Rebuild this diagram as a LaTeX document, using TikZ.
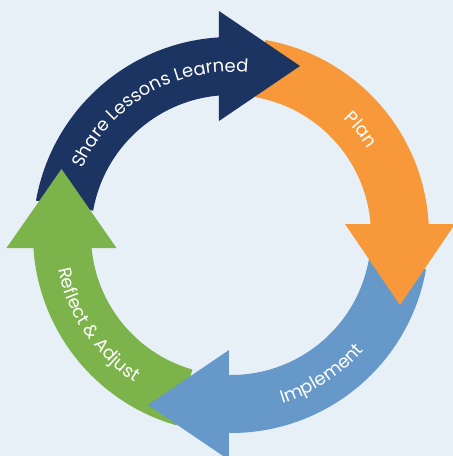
\documentclass[tikz,border=0pt]{standalone}
\usepackage{fontspec}
\setmainfont{Poppins}
\usetikzlibrary{decorations.text}
\definecolor{bgcol}{HTML}{E7F0F7}
\definecolor{sharecol}{HTML}{1C3461}
\definecolor{plancol}{HTML}{F7993A}
\definecolor{implcol}{HTML}{6699C9}
\definecolor{reflcol}{HTML}{7DB34B}
\newcommand{\stagefont}{\fontsize{18}{18}\selectfont}

\begin{document}
\begin{tikzpicture}[x=1pt,y=1pt]
        \tikzset{band/.style={draw=none},
            stage/.style={decorate,
                decoration={text along path, text align=center, text color=white}}}
        \useasboundingbox (-231,-221) rectangle (222,235);
        \fill[bgcol] (-231,-221) rectangle (222,235);
        \coordinate (c) at (0,0);
        % ring pieces
        \fill[band,sharecol] (170:198pt) arc[start angle=170, end angle=92, radius=198pt]
            -- (92:140pt) arc[start angle=92, end angle=170, radius=140pt] -- cycle;
        \fill[band,plancol] (80:198pt) arc[start angle=80, end angle=2, radius=198pt]
            -- (2:140pt) arc[start angle=2, end angle=80, radius=140pt] -- cycle;
        \fill[band,implcol] (-10:198pt) arc[start angle=-10, end angle=-92.5, radius=198pt]
            -- (-92.5:140pt) arc[start angle=-92.5, end angle=-10, radius=140pt] -- cycle;
        \fill[band,reflcol] (254:198pt) arc[start angle=254, end angle=182, radius=198pt]
            -- (182:140pt) arc[start angle=182, end angle=254, radius=140pt] -- cycle;
        % heads
        \fill[sharecol] (-12,114) -- (-12,224) -- (69,169) -- cycle;
        \fill[plancol] (114,11) -- (224,11) -- (169,-70) -- cycle;
        \fill[implcol] (-2,-115) -- (-2,-225) -- (-83,-170) -- cycle;
        \fill[reflcol] (-224.5,-13) -- (-114.5,-13) -- (-169.5,66) -- cycle;
        % labels
        \path[stage, decoration={text={|\stagefont|Share Lessons Learned}}]
            (170:163pt) arc[start angle=170, end angle=70, radius=163pt];
        \path[stage, decoration={text={|\stagefont|Plan}}]
            (70:162pt) arc[start angle=70, end angle=8, radius=162pt];
        \path[stage, decoration={text={|\stagefont|Implement}}]
            (-100:176pt) arc[start angle=-100, end angle=-14, radius=176pt];
        \path[stage, decoration={text={|\stagefont|Reflect {\&} Adjust}}]
            (170:176pt) arc[start angle=170, end angle=258, radius=176pt];
\end{tikzpicture}
\end{document}
